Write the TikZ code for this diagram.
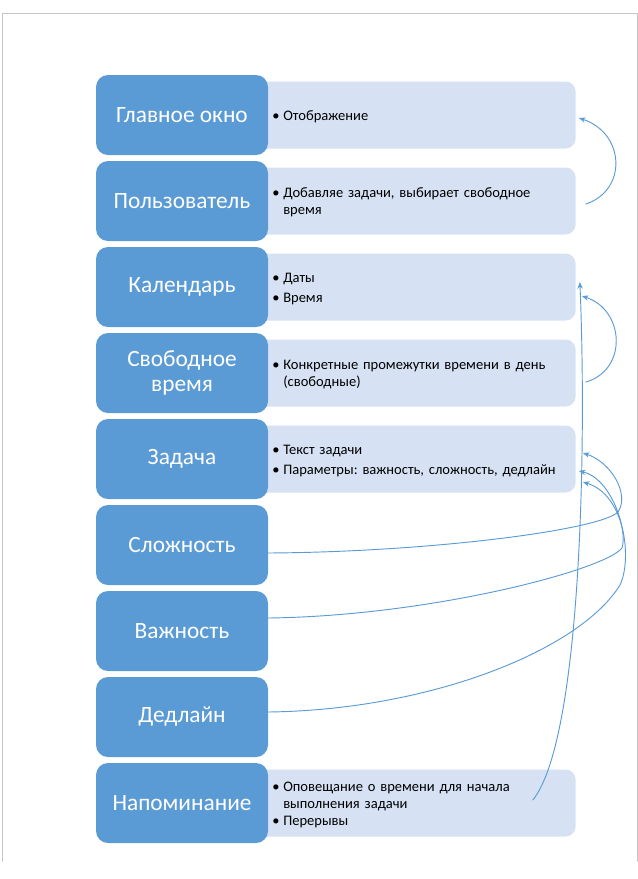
\documentclass[tikz,border=0pt]{standalone}
\usepackage{fontspec}
\setmainfont{Carlito}
\usepackage{xcolor}
\usepackage{tikz}
\usetikzlibrary{arrows.meta,calc}
\definecolor{blockblue}{HTML}{5B9BD5}
\definecolor{blocklight}{HTML}{D6E2F3}
\definecolor{pageedge}{HTML}{C6C6C6}
\newcommand{\bul}[1]{\par\noindent\makebox[8.25pt][l]{\textbullet}\parbox[t]{240pt}{#1}}
\newcommand{\infoend}{\par\vspace*{5.5pt}}
\frenchspacing

\begin{document}
\begin{tikzpicture}[x=0.75pt, y=-0.75pt, line join = round, line cap = round,
    topic/.style={rectangle, rounded corners=9pt, fill=blockblue, text=white,
        minimum width=129pt, minimum height=60pt, inner sep=2pt, align=center,
        font=\fontsize{17.5}{18.75}\selectfont},
    info/.style={rectangle, rounded corners=7.5pt, fill=blocklight, anchor=west,
        minimum height=50.25pt, text width=211pt, inner xsep=16.5pt, inner ysep=0pt,
        align=left, font=\fontsize{10.9}{12.75}\selectfont\setlength{\parskip}{2.6pt},
        execute at end node=\infoend},
    link/.style={blockblue, line width=0.7pt, -{Stealth[length=5pt,width=4pt]}}]

    \useasboundingbox (0,0) rectangle (638,879);
    % page edge
    \draw[pageedge, line width=0.75pt] (2,861) -- (2,13) -- (637,13) -- (637,861);

    % details
    \node[info] (maininfo) at (250,115) {\bul{Отображение}};
    \node[info] (userinfo) at (250,201) {\bul{Добавляе задачи, выбирает свободное\\время}};
    \node[info] (calinfo) at (250,287) {\bul{Даты}\bul{Время}};
    \node[info] (freeinfo) at (250,373) {\bul{Конкретные промежутки времени в день\\(свободные)}};
    \node[info] (taskinfo) at (250,459) {\bul{Текст задачи}\bul{Параметры: важность, сложность, дедлайн}};
    \node[info] (reminfo) at (250,803) {\bul{Оповещание о времени для начала\\выполнения задачи}\bul{Перерывы}};

    % topics
    \node[topic] (main) at (182,115) {Главное окно};
    \node[topic] (user) at (182,201) {Пользователь};
    \node[topic] (cal) at (182,287) {Календарь};
    \node[topic] (free) at (182,373) {Свободное\\время};
    \node[topic] (task) at (182,459) {Задача};
    \node[topic] (diff) at (182,545) {Сложность};
    \node[topic] (imp) at (182,631) {Важность};
    \node[topic] (dead) at (182,717) {Дедлайн};
    \node[topic] (rem) at (182,803) {Напоминание};

    % turning points
    \coordinate (diffturn) at (618,512);
    \coordinate (impturn) at (622,548);
    \coordinate (deadturn) at (620,585);

    % links
    \draw[link] ($(userinfo.east)+(10,3)$) .. controls +(42,-14) and +(46,15) .. ($(maininfo.east)+(3,3)$);
    \draw[link] ($(freeinfo.east)+(10,9)$) .. controls +(42,-12) and +(43,14) .. ($(calinfo.east)+(6,9)$);
    \draw[link] ($(reminfo.east)+(-43,-3)$) .. controls +(48,-60) and +(7,168) .. ($(calinfo.east)+(4,-5)$);
    \draw[link] ($(diff.east)+(0,8)$) .. controls +(162,-1) and +(-18,18) .. (diffturn)
        .. controls +(12,-18) and +(28,9) .. ($(taskinfo.east)+(7,-6)$);
    \draw[link] ($(imp.east)+(0,-13)$) .. controls +(162,-2) and +(-17,22) .. (impturn)
        .. controls +(6,-18) and +(32,7) .. ($(taskinfo.east)+(3,12)$);
    \draw[link] ($(dead.east)+(0,-5)$) .. controls +(162,-2) and +(-40,65) .. (deadturn)
        .. controls +(12,-25) and +(43,13) .. ($(taskinfo.east)+(7,23)$);

\end{tikzpicture}
\end{document}
